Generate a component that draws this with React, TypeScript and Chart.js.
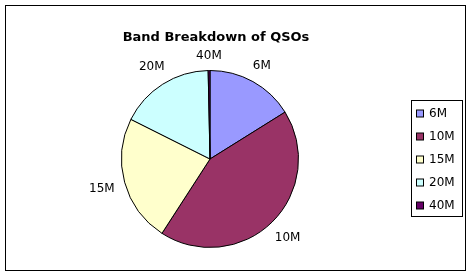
import React, { useEffect, useRef } from "react";
import { Chart, registerables } from "chart.js";

Chart.register(...registerables);

const TITLE = "Band Breakdown of QSOs";
const bands = ["6M", "10M", "15M", "20M", "40M"];
const qsoCounts = [97, 259, 140, 104, 2];
const sliceColors = ["#9999FF", "#993366", "#FFFFCC", "#CCFFFF", "#660066"];

const FONT = '"DejaVu Sans", Verdana, sans-serif';

const decorPlugin = {
  id: "decor",
  beforeDraw(chart: any) {
    const ctx = chart.ctx;
    ctx.save();
    ctx.fillStyle = "#ffffff";
    ctx.fillRect(0, 0, chart.width, chart.height);
    ctx.restore();
  },
  afterDraw(chart: any) {
    const ctx = chart.ctx;
    ctx.save();
    // outer border
    ctx.strokeStyle = "#000000";
    ctx.lineWidth = 1;
    ctx.strokeRect(5.5, 5.5, 460, 265);

    // title
    ctx.fillStyle = "#000000";
    ctx.font = `bold 13px ${FONT}`;
    ctx.textAlign = "center";
    ctx.textBaseline = "middle";
    ctx.fillText(TITLE, 216, 38);

    // slice labels
    ctx.font = `12px ${FONT}`;
    const meta = chart.getDatasetMeta(0);
    const labels = chart.data.labels as string[];
    const capH = 9;
    const gap = 10;
    meta.data.forEach((arc: any, i: number) => {
      const p = arc.getProps(["x", "y", "startAngle", "endAngle", "outerRadius"], true);
      const mid = (p.startAngle + p.endAngle) / 2;
      const c = Math.cos(mid);
      const s = Math.sin(mid);
      const w = ctx.measureText(labels[i]).width;
      const half = (w / 2) * Math.abs(c) + (capH / 2) * Math.abs(s);
      const d = p.outerRadius + gap + half;
      ctx.fillText(labels[i], p.x + c * d, p.y + s * d);
    });

    // legend
    const lx = 411, ly = 100, lw = 51, lh = 116;
    ctx.strokeRect(lx + 0.5, ly + 0.5, lw, lh);
    ctx.textAlign = "left";
    labels.forEach((lab, i) => {
      const cy = 113.5 + i * 23;
      const col = (chart.data.datasets[0].backgroundColor as string[])[i];
      ctx.fillStyle = col;
      ctx.fillRect(416.5, cy - 3.5, 7, 7);
      ctx.strokeStyle = "#000000";
      ctx.strokeRect(416.5, cy - 3.5, 7, 7);
      ctx.fillStyle = "#000000";
      ctx.fillText(lab, 429, cy + 0.5);
    });
    ctx.restore();
  },
};

export default function App() {
  const ref = useRef<HTMLCanvasElement | null>(null);
  useEffect(() => {
    if (!ref.current) return;
    const chart = new Chart(ref.current, {
      type: "pie",
      data: {
        labels: bands,
        datasets: [
          {
            data: qsoCounts,
            backgroundColor: sliceColors,
            borderColor: "#000000",
            borderWidth: 1,
          },
        ],
      },
      options: {
        animation: false,
        responsive: false,
        layout: { padding: { left: 121, top: 70, right: 173, bottom: 28 } },
        plugins: {
          legend: { display: false },
          title: { display: false },
          tooltip: { enabled: false },
        },
      },
      plugins: [decorPlugin],
    });
    return () => chart.destroy();
  }, []);
  return (
    <div style={{ position: "absolute", left: 0, top: 0, width: 472, height: 276 }}>
      <canvas ref={ref} width={472} height={276} style={{ display: "block" }} />
    </div>
  );
}
